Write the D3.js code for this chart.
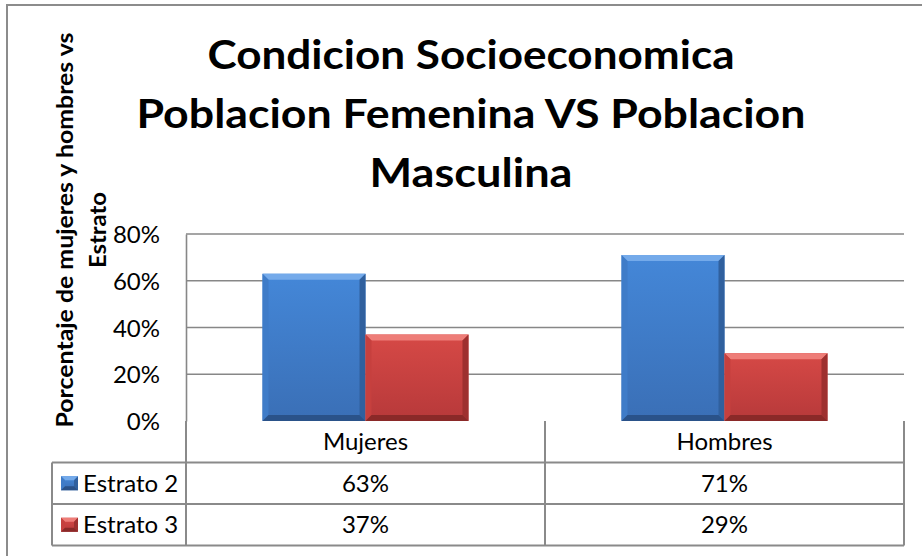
<!DOCTYPE html>
<html lang="es">
<head>
<meta charset="UTF-8">
<title>Condicion Socioeconomica</title>
<script src="https://d3js.org/d3.v7.min.js"></script>
<style>
  body { margin: 0; padding: 0; background: #fff; }
  svg { display: block; }
  text { font-family: Lato, "Open Sans", sans-serif; fill: #000; }
</style>
</head>
<body>
<div id="chart"></div>
<script>
// data
var categories = ['Mujeres', 'Hombres'];
var seriesNames = ['Estrato 2', 'Estrato 3'];
var estrato2 = [0.63, 0.71];
var estrato3 = [0.37, 0.29];
var yTicks = [0, 0.2, 0.4, 0.6, 0.8];
var titleLines = ['Condicion Socioeconomica', 'Poblacion Femenina VS Poblacion', 'Masculina'];
var yTitleLines = ['Porcentaje de mujeres y hombres vs', 'Estrato'];

var W = 922, H = 556;
var plot = { left: 186, right: 904, top: 234, bottom: 421 };
var rowH = 41.5;
var legendLeft = 52;
var smallFont = '24px';

var palette = {
  'Estrato 2': { top: '#74aaea', faceA: '#4487d8', faceB: '#3a6fb6', left: '#3f7cc8', right: '#30609e', bottom: '#2a5289' },
  'Estrato 3': { top: '#ee7d78', faceA: '#d64946', faceB: '#b7393a', left: '#c6403e', right: '#9e302f', bottom: '#8a2928' }
};

var svg = d3.select('#chart').append('svg').attr('width', W).attr('height', H);
var defs = svg.append('defs');
seriesNames.forEach(function (s, i) {
  var g = defs.append('linearGradient').attr('id', 'face' + i)
    .attr('x1', 0).attr('y1', 0).attr('x2', 0).attr('y2', 1);
  g.append('stop').attr('offset', '0%').attr('stop-color', palette[s].faceA);
  g.append('stop').attr('offset', '100%').attr('stop-color', palette[s].faceB);
});

// outer frame (only left and top are visible in the picture)
svg.append('rect').attr('x', 7).attr('y', 5).attr('width', W + 20).attr('height', H + 20)
  .attr('fill', 'none').attr('stroke', '#8c8c8c').attr('stroke-width', 2);

// scales
var x = d3.scaleBand().domain(categories).range([plot.left, plot.right]);
var xSub = d3.scaleBand().domain(seriesNames).range([0, x.bandwidth()]).paddingOuter(0.743);
var y = d3.scaleLinear().domain([0, 0.8]).range([plot.bottom, plot.top]);

// gridlines
svg.append('g').selectAll('line').data(yTicks.slice(1)).enter().append('line')
  .attr('x1', plot.left).attr('x2', plot.right)
  .attr('y1', function (d) { return y(d); }).attr('y2', function (d) { return y(d); })
  .attr('stroke', '#878787').attr('stroke-width', 1.6);

// y axis
var yAxis = d3.axisLeft(y).tickValues(yTicks).tickFormat(d3.format('.0%')).tickSize(0).tickPadding(26);
var yg = svg.append('g').attr('transform', 'translate(' + plot.left + ',0)').call(yAxis);
yg.select('.domain').attr('stroke', '#878787').attr('stroke-width', 1.6);
yg.selectAll('text').style('font-size', smallFont).attr('font-family', null).attr('dy', '0.36em');

// bars with bevel
function bevel(g, x0, y0, w, h, b, c, faceId) {
  g.append('rect').attr('x', x0).attr('y', y0).attr('width', w).attr('height', h).attr('fill', 'url(#' + faceId + ')');
  var pts = function (a) { return a.map(function (p) { return p.join(','); }).join(' '); };
  g.append('polygon').attr('fill', c.top).attr('points', pts([[x0, y0], [x0 + w, y0], [x0 + w - b, y0 + b], [x0 + b, y0 + b]]));
  g.append('polygon').attr('fill', c.left).attr('points', pts([[x0, y0], [x0 + b, y0 + b], [x0 + b, y0 + h - b], [x0, y0 + h]]));
  g.append('polygon').attr('fill', c.right).attr('points', pts([[x0 + w, y0], [x0 + w, y0 + h], [x0 + w - b, y0 + h - b], [x0 + w - b, y0 + b]]));
  g.append('polygon').attr('fill', c.bottom).attr('points', pts([[x0, y0 + h], [x0 + b, y0 + h - b], [x0 + w - b, y0 + h - b], [x0 + w, y0 + h]]));
}

var seriesValues = [estrato2, estrato3];
var bars = svg.append('g').attr('class', 'bars');
categories.forEach(function (cat, ci) {
  seriesNames.forEach(function (s, si) {
    var v = seriesValues[si][ci];
    var bx = x(cat) + xSub(s);
    bevel(bars, bx, y(v), xSub.bandwidth(), y(0) - y(v), 6, palette[s], 'face' + si);
  });
});

// data table
var lineColor = '#8a8a8a';
var tbl = svg.append('g').attr('class', 'table');
var row0 = plot.bottom, row1 = row0 + rowH, row2 = row1 + rowH, row3 = row2 + rowH;
[row1, row2, row3].forEach(function (ry) {
  tbl.append('line').attr('x1', legendLeft).attr('x2', plot.right).attr('y1', ry).attr('y2', ry)
    .attr('stroke', lineColor).attr('stroke-width', 2);
});
var vlines = [plot.left].concat(categories.map(function (c) { return x(c) + x.bandwidth(); }));
vlines.forEach(function (vx) {
  tbl.append('line').attr('x1', vx).attr('x2', vx).attr('y1', row0).attr('y2', row3)
    .attr('stroke', lineColor).attr('stroke-width', 2);
});
tbl.append('line').attr('x1', legendLeft).attr('x2', legendLeft).attr('y1', row1).attr('y2', row3)
  .attr('stroke', lineColor).attr('stroke-width', 2);

// category header
tbl.selectAll('text.cat').data(categories).enter().append('text').attr('class', 'cat')
  .attr('x', function (d) { return x(d) + x.bandwidth() / 2; })
  .attr('y', row0 + rowH / 2).attr('dy', '0.36em')
  .attr('text-anchor', 'middle').style('font-size', smallFont)
  .text(function (d) { return d; });

// rows
var fmt = d3.format('.0%');
seriesNames.forEach(function (s, si) {
  var cy = row1 + rowH * si + rowH / 2;
  bevel(tbl, legendLeft + 9, cy - 7, 17, 14, 4, palette[s], 'face' + si);
  tbl.append('text').attr('x', legendLeft + 31).attr('y', cy).attr('dy', '0.36em')
    .style('font-size', smallFont).text(s);
  categories.forEach(function (cat, ci) {
    tbl.append('text').attr('x', x(cat) + x.bandwidth() / 2).attr('y', cy).attr('dy', '0.36em')
      .attr('text-anchor', 'middle').style('font-size', smallFont)
      .text(fmt(seriesValues[si][ci]));
  });
});

// chart title
var titleBase = [69, 128, 187];
var titleWidth = [527, 669, 203];
svg.append('g').selectAll('text').data(titleLines).enter().append('text')
  .attr('x', 471).attr('y', function (d, i) { return titleBase[i]; })
  .attr('text-anchor', 'middle').style('font-size', '40px').style('font-weight', 'bold')
  .attr('textLength', function (d, i) { return titleWidth[i]; })
  .attr('lengthAdjust', 'spacingAndGlyphs')
  .text(function (d) { return d; });

// y axis title
var yTitleBase = [73, 106];
var yTitleWidth = [395, 76];
svg.append('g').selectAll('text').data(yTitleLines).enter().append('text')
  .attr('transform', function (d, i) { return 'translate(' + yTitleBase[i] + ',230) rotate(-90)'; })
  .attr('text-anchor', 'middle').style('font-size', '23px').style('font-weight', 'bold')
  .attr('textLength', function (d, i) { return yTitleWidth[i]; })
  .attr('lengthAdjust', 'spacingAndGlyphs')
  .text(function (d) { return d; });
</script>
</body>
</html>
